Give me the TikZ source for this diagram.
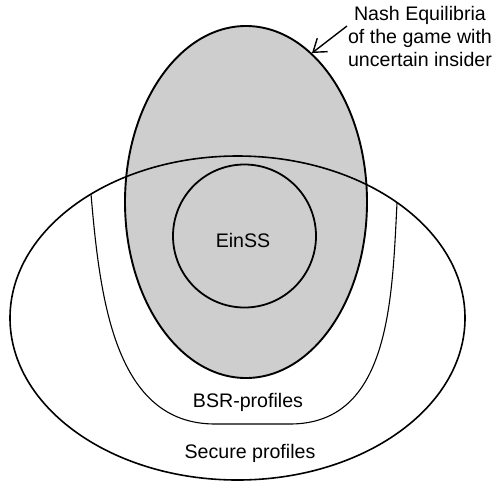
\documentclass[tikz,border=0pt]{standalone}
\usepackage{fontspec}
\setmainfont{Liberation Sans}
\usetikzlibrary{arrows.meta}
\definecolor{nashgrey}{RGB}{206,206,206}
\tikzset{
  lbl/.style={inner sep=0pt, font=\fontsize{19.6}{22.8}\selectfont},
  outline/.style={draw=black, line width=1.6pt},
  bsrline/.style={draw=black, line width=1.1pt},
}
\begin{document}
\begin{tikzpicture}[x=1pt,y=-1pt]
\useasboundingbox (0,0) rectangle (494,485);
% grey Nash ellipse
\fill[nashgrey] (246,202) ellipse [x radius=121, y radius=176];
% secure profiles ellipse
\draw[outline] (237.5,318) ellipse [x radius=227.5, y radius=162];
% grey outline
\draw[outline, line width=1.9pt] (246,202) ellipse [x radius=121, y radius=176];
% EinSS circle
\draw[outline, line width=1.8pt] (244.5,236) circle [radius=71.5];
% BSR region
\draw[bsrline] (91,194) .. controls (100,300) and (115,424) .. (215,424)
  -- (290,424) .. controls (390,424) and (392,300) .. (397,203);
% labels
\node[lbl, anchor=base] (einss) at (243,247) {EinSS};
\node[lbl, anchor=base] (bsr) at (248,407) {BSR-profiles};
\node[lbl, anchor=base] (secure) at (250,458) {Secure profiles};
\node[lbl, anchor=north, align=center] (nash) at (420,6.5)
  {Nash Equilibria\\of the game with\\uncertain insider};
\coordinate (tail) at (347,26);
\coordinate (tip) at (312,53);
\draw[line width=1.4pt, -{Straight Barb[length=12pt,width=17pt]}] (tail) -- (tip);
\end{tikzpicture}
\end{document}
